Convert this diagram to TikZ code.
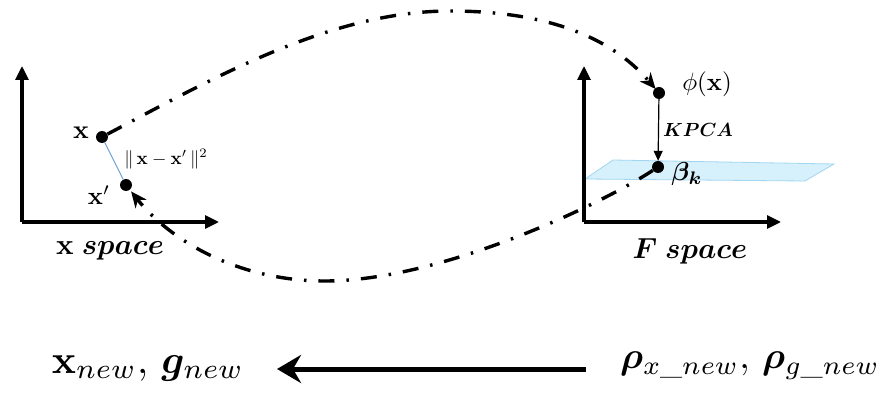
\documentclass[tikz,border=0pt]{standalone}
\usepackage{amsmath,bm}
\usetikzlibrary{arrows.meta}
\definecolor{planefill}{RGB}{214,240,252}
\definecolor{planeedge}{RGB}{160,214,240}
\definecolor{normline}{RGB}{110,160,210}
\newcommand{\szm}[2]{\scalebox{#1}{\fontsize{10}{12}\selectfont$#2$}}
\tikzset{
  axis/.style={line width=3.2pt,-{Triangle[length=14pt,width=13pt]}},
  dotnode/.style={circle,fill=black,inner sep=0pt,minimum size=12pt},
  dashdotline/.style={line width=3.4pt,dash pattern=on 16pt off 12pt on 2.5pt off 12pt},
  lbl/.style={inner sep=1pt},
}
\begin{document}
\begin{tikzpicture}[x=1pt,y=-1pt]
\useasboundingbox (0,0) rectangle (889,398);
% left axes
\coordinate (LO) at (22,222);
\coordinate (LY) at (22,66);
\coordinate (LX) at (219,222);
\draw[axis] (LO) -- (LY);
\draw[axis] (LO) -- (LX);
% right axes
\coordinate (RO) at (584,222);
\coordinate (RY) at (584,66);
\coordinate (RX) at (781,222);
% plane
\fill[planefill,draw=planeedge,line width=0.8pt] (585,179) -- (613,160) -- (834,164) -- (805,181) -- cycle;
\draw[axis] (RO) -- (RY);
\draw[axis] (RO) -- (RX);
% points
\node[dotnode] (x) at (102,137) {};
\node[dotnode] (xp) at (126,185) {};
\node[dotnode] (phi) at (659,93) {};
\node[dotnode] (beta) at (658,167) {};
\coordinate (top) at (450,11);
\coordinate (bot) at (325,281);
% norm line
\draw[normline,line width=1.1pt] (x) -- (xp);
% labels
\node[lbl] (xl) at (81,133) {\szm{2.6}{\mathbf{x}}};
\node[lbl] (xpl) at (99,195) {\szm{2.5}{\mathbf{x}'}};
\node[lbl] (norml) at (166,159) {\szm{1.85}{\|\,\mathbf{x}-\mathbf{x}'\,\|^2}};
\node[lbl] (phil) at (707,84) {\szm{2.5}{\phi(\mathbf{x})}};
\node[lbl] (kpca) at (698,130) {\szm{1.9}{\boldsymbol{KPCA}}};
\node[lbl] (betal) at (687,174) {\szm{2.6}{\boldsymbol{\beta}_{\boldsymbol{k}}}};
\node[lbl] (xspace) at (110,251) {\szm{2.9}{\mathbf{x}\;\boldsymbol{space}}};
\node[lbl] (fspace) at (690,251) {\szm{2.9}{\boldsymbol{F}\;\boldsymbol{space}}};
% KPCA arrow
\draw[line width=1.2pt,-{Triangle[length=10pt,width=9pt]}] (phi) -- (beta);
% dash-dot curves
\draw[dashdotline,-{Stealth[length=16pt,width=14pt,inset=5pt]},shorten >=-1pt]
  (x) .. controls (210,80) and (330,11) .. (top)
      .. controls (560,11) and (618,45) .. (phi);
\draw[dashdotline,-{Stealth[length=16pt,width=14pt,inset=5pt]},shorten >=2pt]
  (beta) .. controls (600,205) and (440,281) .. (bot)
      .. controls (235,281) and (168,238) .. (xp);
% bottom
\node[lbl] (xnew) at (148,368) {\szm{4.0}{\mathbf{x}_{new},\,\boldsymbol{g}_{new}}};
\node[lbl] (rho) at (750,366) {\szm{3.75}{\boldsymbol{\rho}_{x\_new},\,\boldsymbol{\rho}_{g\_new}}};
\coordinate (arrS) at (586,369);
\coordinate (arrE) at (277,369);
\draw[line width=5pt,-{Stealth[length=24pt,width=28pt,inset=8pt]}] (arrS) -- (arrE);
\end{tikzpicture}
\end{document}
